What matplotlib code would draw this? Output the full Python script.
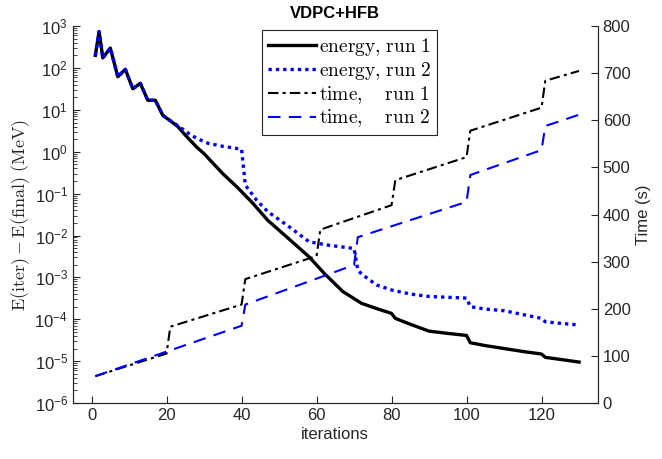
import matplotlib
matplotlib.use("Agg")
import matplotlib.pyplot as plt
from matplotlib.font_manager import FontProperties
from matplotlib.ticker import LogLocator, MultipleLocator

# energy difference vs iteration (MeV)
iter_e1 = [1, 2, 3, 5, 7, 9, 11, 13, 15, 17, 19, 21, 23, 25, 28, 30, 32, 35, 39,
           43, 47, 52, 58, 62, 67, 72, 76, 80, 81, 85, 90, 95, 100, 101, 105,
           110, 115, 120, 121, 125, 130]
energy_run1 = [200, 740, 175, 300, 62, 93, 32, 43, 17, 17, 7.4, 5.5, 4.0, 2.5,
               1.3, 0.9, 0.58, 0.30, 0.138, 0.059, 0.023, 9.3e-3, 3.1e-3,
               1.26e-3, 4.6e-4, 2.4e-4, 1.8e-4, 1.38e-4, 1.05e-4, 7.6e-5,
               5.2e-5, 4.6e-5, 4.1e-5, 2.75e-5, 2.35e-5, 2.0e-5, 1.7e-5,
               1.48e-5, 1.23e-5, 1.1e-5, 9.5e-6]

iter_e2 = [1, 2, 3, 5, 7, 9, 11, 13, 15, 17, 19, 21, 23, 26, 28, 31, 35, 40,
           41, 44, 47, 52, 58, 63, 70, 71, 72, 76, 80, 85, 90, 100, 101, 105,
           110, 120, 121, 125, 130]
energy_run2 = [200, 740, 175, 300, 62, 93, 32, 43, 17, 17, 7.4, 5.5, 4.2, 2.7,
               2.1, 1.6, 1.35, 1.15, 0.16, 0.07, 0.037, 0.018, 7.1e-3, 5.9e-3,
               4.9e-3, 1.5e-3, 1.2e-3, 6.6e-4, 5.0e-4, 4.0e-4, 3.5e-4, 3.2e-4,
               2.0e-4, 1.75e-4, 1.6e-4, 1.05e-4, 8.7e-5, 8.0e-5, 7.3e-5]

# wall time (s)
iter_t1 = [1, 20, 21, 40, 41, 60, 61, 80, 81, 100, 101, 120, 121, 130]
time_run1 = [57, 105, 162, 209, 263, 312, 368, 420, 473, 522, 578, 627, 684, 705]

iter_t2 = [1, 40, 41, 70, 71, 100, 101, 120, 121, 130]
time_run2 = [57, 164, 209, 293, 352, 427, 484, 537, 588, 612]

plt.rcParams["font.family"] = ["Liberation Sans", "DejaVu Sans"]
grey = "#262626"

fig = plt.figure(figsize=(6.62, 4.59), dpi=100)
ax = fig.add_axes([0.110, 0.122, 0.793, 0.821])
ax2 = ax.twinx()

l1, = ax.semilogy(iter_e1, energy_run1, color="black", lw=2.4)
l2, = ax.semilogy(iter_e2, energy_run2, color="blue", lw=2.4, ls=(0, (1, 1.2)))
l3, = ax2.plot(iter_t1, time_run1, color="black", lw=1.5, ls=(0, (5, 2, 1.5, 2)))
l4, = ax2.plot(iter_t2, time_run2, color="blue", lw=1.5, ls=(0, (6, 4)))

ax.set_xlim(-5, 135)
ax.set_ylim(1e-6, 1e3)
ax.xaxis.set_major_locator(MultipleLocator(20))
ax.yaxis.set_major_locator(LogLocator(base=10, numticks=20))
ax.yaxis.set_minor_locator(LogLocator(base=10, subs=range(2, 10), numticks=20))
ax2.set_ylim(0, 800)
ax2.yaxis.set_major_locator(MultipleLocator(100))

for a in (ax, ax2):
    a.spines["top"].set_visible(False)
    for s in a.spines.values():
        s.set_color(grey)
    a.tick_params(which="both", direction="in", colors=grey, labelsize=12,
                  labelcolor=grey)
    a.tick_params(which="major", length=5)
    a.tick_params(which="minor", length=3)
ax.tick_params(axis="y", which="both", right=False)
ax2.tick_params(axis="y", which="both", left=False)

ax.set_xlabel("iterations", fontsize=12, color=grey, labelpad=3)
ax.set_ylabel(r"$\mathrm{E(iter)} - \mathrm{E(final)}\ \mathrm{(MeV)}$",
              fontsize=13, math_fontfamily="cm", color=grey, labelpad=2)
ax2.set_ylabel("Time (s)", fontsize=12, color=grey, labelpad=4)
ax.set_title("VDPC+HFB", fontsize=12, fontweight="bold", pad=6)

labels = [r"$\mathrm{energy{,}\ run\ 1}$", r"$\mathrm{energy{,}\ run\ 2}$",
          r"$\mathrm{time{,}\quad\ run\ 1}$", r"$\mathrm{time{,}\quad\ run\ 2}$"]
leg = ax2.legend([l1, l2, l3, l4], labels, loc="upper center",
                 bbox_to_anchor=(0.527, 0.99),
                 prop=FontProperties(size=14, math_fontfamily="cm"),
                 fancybox=False, framealpha=1, edgecolor=grey,
                 handlelength=2.5, handletextpad=0.15, labelspacing=0.1,
                 borderpad=0.3, borderaxespad=0)
leg.get_frame().set_linewidth(0.8)

fig.savefig("out.png", dpi=100)
